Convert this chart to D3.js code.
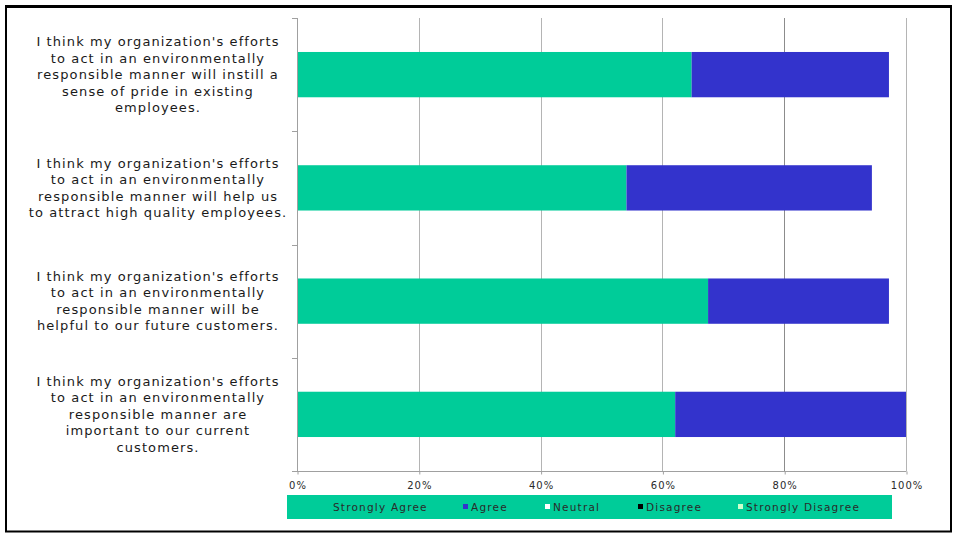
<!DOCTYPE html>
<html><head><meta charset="utf-8">
<script src="https://cdn.jsdelivr.net/npm/d3@7"></script>
<style>body{margin:0;background:#fff;} svg{display:block;}</style>
</head><body>
<script>
const categories = [
  ["I think my organization's efforts","to act in an environmentally","responsible manner will instill a","sense of pride in existing","employees."],
  ["I think my organization's efforts","to act in an environmentally","responsible manner will help us","to attract high quality employees."],
  ["I think my organization's efforts","to act in an environmentally","responsible manner will be","helpful to our future customers."],
  ["I think my organization's efforts","to act in an environmentally","responsible manner are","important to our current","customers."]
];
const seriesNames = ["Strongly Agree","Agree","Neutral","Disagree","Strongly Disagree"];
const stronglyAgree = [64.8, 54.1, 67.5, 62.1];
const agree = [32.4, 40.3, 29.7, 37.9];
const neutral = [0, 0, 0, 0];
const disagree = [0, 0, 0, 0];
const stronglyDisagree = [0, 0, 0, 0];
const xTicks = [0, 20, 40, 60, 80, 100];
const colors = ["#00CC99","#3333CC","#FFFFFF","#000000","#CCFFCC"];

const W = 954, H = 535;
const svg = d3.select("body").append("svg").attr("width", W).attr("height", H);
svg.append("rect").attr("x",0).attr("y",0).attr("width",W).attr("height",H).attr("fill","#fff");
// outer frame
svg.append("rect").attr("x",6).attr("y",6.5).attr("width",945).attr("height",525).attr("fill","none").attr("stroke","#000").attr("stroke-width",2);
svg.append("rect").attr("x",5).attr("y",5).attr("width",947).attr("height",3).attr("fill","#000");

const m = {left: 297, right: 906, top: 18, bottom: 471};
const x = d3.scaleLinear().domain([0,100]).range([m.left, m.right]);
const idx = d3.range(categories.length);
const y = d3.scaleBand().domain(idx).range([m.top, m.bottom]).paddingInner(0.6).paddingOuter(0.3);

const seriesData = [stronglyAgree, agree, neutral, disagree, stronglyDisagree];
const rows = idx.map(i => {
  const o = {i};
  seriesNames.forEach((s, k) => o[s] = seriesData[k][i]);
  return o;
});
const stack = d3.stack().keys(seriesNames)(rows);

const FONT = "DejaVu Sans, Verdana, sans-serif";

// gridlines
svg.append("g").selectAll("line").data(xTicks.slice(1)).join("line")
  .attr("x1", d => Math.round(x(d)) + 0.5).attr("x2", d => Math.round(x(d)) + 0.5)
  .attr("y1", m.top).attr("y2", m.bottom)
  .attr("stroke", d => d === 80 ? "#8c8c8c" : "#b4b4b4").attr("stroke-width", 1);

// bars
svg.append("g").selectAll("g").data(stack).join("g")
  .attr("fill", (d, k) => colors[k])
  .selectAll("rect").data(d => d).join("rect")
  .attr("x", d => x(d[0])).attr("width", d => x(d[1]) - x(d[0]))
  .attr("y", d => y(d.data.i)).attr("height", y.bandwidth());

// x axis
const xAxis = d3.axisBottom(x).tickValues(xTicks).tickFormat(d => d + "%").tickSize(3).tickPadding(7);
const gx = svg.append("g").attr("transform", `translate(0.5,${m.bottom + 0.5})`).call(xAxis);
gx.select(".domain").attr("stroke", "#a0a0a0").attr("d", `M${m.left - 5},0H${m.right}`);
gx.selectAll(".tick line").attr("stroke", "#a0a0a0");
gx.selectAll("text").attr("font-family", FONT).attr("font-size", "10px").attr("letter-spacing", "1px").attr("fill", "#2a2a2a");

// y axis line + ticks at band boundaries
const yEdges = idx.map(i => y(i) - y.step() * y.paddingOuter()).concat([m.bottom]);
svg.append("line").attr("x1", m.left + 0.5).attr("x2", m.left + 0.5).attr("y1", m.top).attr("y2", m.bottom).attr("stroke", "#a0a0a0");
svg.append("g").selectAll("line").data(yEdges).join("line")
  .attr("x1", m.left - 5).attr("x2", m.left)
  .attr("y1", d => Math.round(d) + 0.5).attr("y2", d => Math.round(d) + 0.5)
  .attr("stroke", "#a0a0a0");

// category labels
const lh = 16.5;
const lab = svg.append("g").attr("font-family", FONT).attr("font-size", "13px").attr("letter-spacing", "1.1px").attr("fill", "#1a1a1a").attr("text-anchor", "middle");
categories.forEach((lines, i) => {
  const cy = y(i) + y.bandwidth() / 2;
  const t = lab.append("text").attr("y", cy - (lines.length - 1) * lh / 2);
  lines.forEach((ln, j) => {
    t.append("tspan").attr("x", 158).attr("dy", j === 0 ? "0.35em" : lh).text(ln);
  });
});

// legend
svg.append("rect").attr("x", 287).attr("y", 495).attr("width", 605).attr("height", 24).attr("fill", "#00CC99");
const legX = [325, 463, 545, 638, 738];
const leg = svg.append("g").attr("font-family", FONT).attr("font-size", "10.5px").attr("letter-spacing", "1.2px").attr("fill", "#2a2a2a");
seriesNames.forEach((s, k) => {
  leg.append("rect").attr("x", legX[k]).attr("y", 504).attr("width", 5).attr("height", 5).attr("fill", colors[k]);
  leg.append("text").attr("x", legX[k] + 8).attr("y", 507).attr("dy", "0.35em").text(s);
});
</script>
</body></html>
